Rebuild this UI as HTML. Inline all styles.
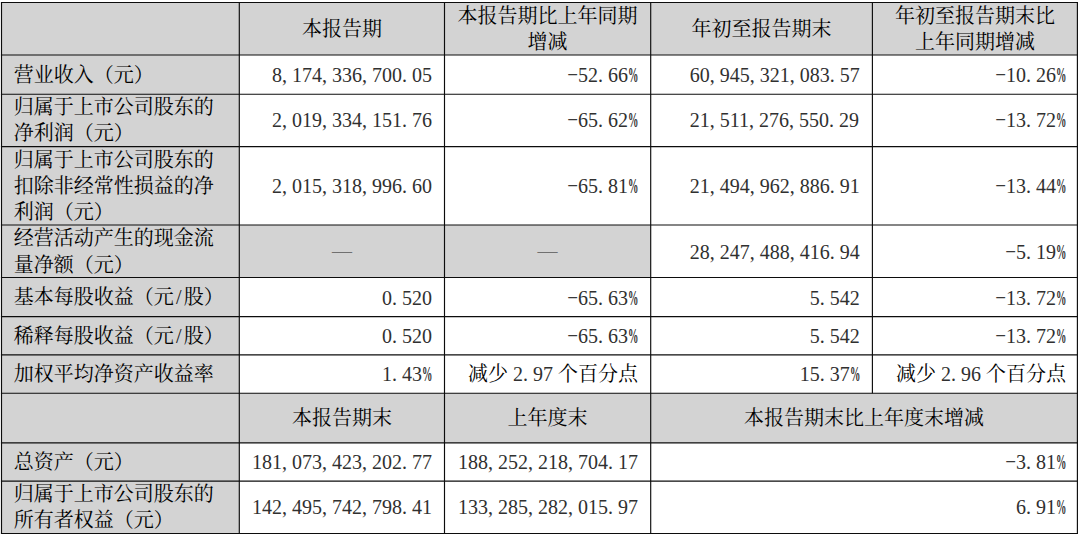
<!DOCTYPE html>
<html lang="zh-CN">
<head>
<meta charset="utf-8">
<title>主要会计数据和财务指标</title>
<style>
html,body{margin:0;padding:0;background:#fff}
#page{position:relative;width:1080px;height:536px;overflow:hidden;background:#fff;font-family:"Liberation Serif",serif;font-size:20px;color:#000}
#page svg{position:absolute;left:0;top:0;display:block}
table{margin:2.5px 0 0 1.5px;width:1075.9px;border-collapse:collapse;table-layout:fixed;border-spacing:0}
th,td{padding:0;margin:0;border:0;font-weight:normal}
.ln{position:absolute;white-space:nowrap;height:26.2px;line-height:26.2px;text-align:left;letter-spacing:0;color:#303030}
.cj{display:inline-block;color:#000;font-family:"Liberation Serif","Noto Serif CJK SC",serif;white-space:nowrap;overflow:visible;letter-spacing:0}
i{font-style:normal;display:inline-block;width:10px}
i.p{text-align:left}
i.pc{text-align:left}
i.pc{font-weight:bold;transform:scale(.52,1.02);transform-origin:0 76%}
i.mi{text-align:center;color:#3a3a3a;transform:translate(-.4px,-2.1px) scale(1.7,.72)}
i.sl{text-align:center;color:#1a1a1a}
i.sp{width:5px}
</style>
</head>
<body>
<div id="page">
<svg width="1080" height="536" viewBox="0 0 1080 536" aria-hidden="true">
<rect x="1.5" y="2.5" width="237.8" height="531" fill="#d3d3d3"/>
<rect x="1.5" y="2.5" width="1075.9" height="52.5" fill="#d3d3d3"/>
<rect x="1.5" y="393.2" width="1075.9" height="49.7" fill="#d3d3d3"/>
<rect x="239.3" y="225" width="411.4" height="52.5" fill="#d3d3d3"/>
<g stroke="#0c0c0c" stroke-width="1.15" fill="none">
<path d="M0.93 2.5H1077.98"/>
<path d="M0.93 55H1077.98"/>
<path d="M0.93 94.2H1077.98"/>
<path d="M0.93 146.6H1077.98"/>
<path d="M0.93 225H1077.98"/>
<path d="M0.93 277.5H1077.98"/>
<path d="M0.93 316.6H1077.98"/>
<path d="M0.93 354.9H1077.98"/>
<path d="M0.93 393.2H1077.98"/>
<path d="M0.93 442.9H1077.98"/>
<path d="M0.93 481.1H1077.98"/>
<path d="M0.93 533.5H1077.98"/>
<path d="M1.5 2.5V533.5"/>
<path d="M239.3 2.5V533.5"/>
<path d="M444.5 2.5V533.5"/>
<path d="M650.7 2.5V533.5"/>
<path d="M872.4 2.5V393.2"/>
<path d="M1077.4 2.5V533.5"/>
</g>
</svg>
<table>
<colgroup><col style="width:237.8px"><col style="width:205.2px"><col style="width:206.2px"><col style="width:221.7px"><col style="width:205px"></colgroup>
<tr style="height:52.5px">
<th></th>
<th><div class="ln" style="left:301.9px;top:15.9px;width:80px"><span class="cj" style="width:80px">本报告期</span></div></th>
<th><div class="ln" style="left:457.6px;top:2.8px;width:180px"><span class="cj" style="width:180px">本报告期比上年同期</span></div><div class="ln" style="left:527.6px;top:29px;width:40px"><span class="cj" style="width:40px">增减</span></div></th>
<th><div class="ln" style="left:691.55px;top:15.9px;width:140px"><span class="cj" style="width:140px">年初至报告期末</span></div></th>
<th><div class="ln" style="left:894.9px;top:2.8px;width:160px"><span class="cj" style="width:160px">年初至报告期末比</span></div><div class="ln" style="left:914.9px;top:29px;width:120px"><span class="cj" style="width:120px">上年同期增减</span></div></th>
</tr>
<tr style="height:39.2px">
<th><div class="ln" style="left:13.7px;top:61.5px;width:140px"><span class="cj" style="width:140px">营业收入（元）</span></div></th>
<td><div class="ln" style="left:271.9px;top:61.5px;width:160px">8<i class="p">,</i>174<i class="p">,</i>336<i class="p">,</i>700<i class="p">.</i>05</div></td>
<td><div class="ln" style="left:568.1px;top:61.5px;width:70px"><i class="mi">-</i>52<i class="p">.</i>66<i class="pc">%</i></div></td>
<td><div class="ln" style="left:689.8px;top:61.5px;width:170px">60<i class="p">,</i>945<i class="p">,</i>321<i class="p">,</i>083<i class="p">.</i>57</div></td>
<td><div class="ln" style="left:995.9px;top:61.5px;width:70px"><i class="mi">-</i>10<i class="p">.</i>26<i class="pc">%</i></div></td>
</tr>
<tr style="height:52.4px">
<th><div class="ln" style="left:13.7px;top:93.9px;width:200px"><span class="cj" style="width:200px">归属于上市公司股东的</span></div><div class="ln" style="left:13.7px;top:120.4px;width:120px"><span class="cj" style="width:120px">净利润（元）</span></div></th>
<td><div class="ln" style="left:271.9px;top:107.3px;width:160px">2<i class="p">,</i>019<i class="p">,</i>334<i class="p">,</i>151<i class="p">.</i>76</div></td>
<td><div class="ln" style="left:568.1px;top:107.3px;width:70px"><i class="mi">-</i>65<i class="p">.</i>62<i class="pc">%</i></div></td>
<td><div class="ln" style="left:689.8px;top:107.3px;width:170px">21<i class="p">,</i>511<i class="p">,</i>276<i class="p">,</i>550<i class="p">.</i>29</div></td>
<td><div class="ln" style="left:995.9px;top:107.3px;width:70px"><i class="mi">-</i>13<i class="p">.</i>72<i class="pc">%</i></div></td>
</tr>
<tr style="height:78.4px">
<th><div class="ln" style="left:13.7px;top:147px;width:200px"><span class="cj" style="width:200px">归属于上市公司股东的</span></div><div class="ln" style="left:13.7px;top:172.7px;width:200px"><span class="cj" style="width:200px">扣除非经常性损益的净</span></div><div class="ln" style="left:13.7px;top:198.9px;width:100px"><span class="cj" style="width:100px">利润（元）</span></div></th>
<td><div class="ln" style="left:271.9px;top:172.7px;width:160px">2<i class="p">,</i>015<i class="p">,</i>318<i class="p">,</i>996<i class="p">.</i>60</div></td>
<td><div class="ln" style="left:568.1px;top:172.7px;width:70px"><i class="mi">-</i>65<i class="p">.</i>81<i class="pc">%</i></div></td>
<td><div class="ln" style="left:689.8px;top:172.7px;width:170px">21<i class="p">,</i>494<i class="p">,</i>962<i class="p">,</i>886<i class="p">.</i>91</div></td>
<td><div class="ln" style="left:995.9px;top:172.7px;width:70px"><i class="mi">-</i>13<i class="p">.</i>44<i class="pc">%</i></div></td>
</tr>
<tr style="height:52.5px">
<th><div class="ln" style="left:13.7px;top:225.05px;width:200px"><span class="cj" style="width:200px">经营活动产生的现金流</span></div><div class="ln" style="left:13.7px;top:251.85px;width:120px"><span class="cj" style="width:120px">量净额（元）</span></div></th>
<td><div class="ln" style="left:331.9px;top:238.15px;width:20px"><span class="cj" style="width:20px;color:#707070">—</span></div></td>
<td><div class="ln" style="left:537.6px;top:238.15px;width:20px"><span class="cj" style="width:20px;color:#707070">—</span></div></td>
<td><div class="ln" style="left:689.8px;top:239.15px;width:170px">28<i class="p">,</i>247<i class="p">,</i>488<i class="p">,</i>416<i class="p">.</i>94</div></td>
<td><div class="ln" style="left:1005.9px;top:239.15px;width:60px"><i class="mi">-</i>5<i class="p">.</i>19<i class="pc">%</i></div></td>
</tr>
<tr style="height:39.1px">
<th><div class="ln" style="left:13.7px;top:284.45px;width:210px"><span class="cj" style="width:160px">基本每股收益（元</span><i class="sl">/</i><span class="cj" style="width:40px">股）</span></div></th>
<td><div class="ln" style="left:381.9px;top:284.95px;width:50px">0<i class="p">.</i>520</div></td>
<td><div class="ln" style="left:568.1px;top:284.95px;width:70px"><i class="mi">-</i>65<i class="p">.</i>63<i class="pc">%</i></div></td>
<td><div class="ln" style="left:809.8px;top:284.95px;width:50px">5<i class="p">.</i>542</div></td>
<td><div class="ln" style="left:995.9px;top:284.95px;width:70px"><i class="mi">-</i>13<i class="p">.</i>72<i class="pc">%</i></div></td>
</tr>
<tr style="height:38.3px">
<th><div class="ln" style="left:13.7px;top:322.65px;width:210px"><span class="cj" style="width:160px">稀释每股收益（元</span><i class="sl">/</i><span class="cj" style="width:40px">股）</span></div></th>
<td><div class="ln" style="left:381.9px;top:322.65px;width:50px">0<i class="p">.</i>520</div></td>
<td><div class="ln" style="left:568.1px;top:322.65px;width:70px"><i class="mi">-</i>65<i class="p">.</i>63<i class="pc">%</i></div></td>
<td><div class="ln" style="left:809.8px;top:322.65px;width:50px">5<i class="p">.</i>542</div></td>
<td><div class="ln" style="left:995.9px;top:322.65px;width:70px"><i class="mi">-</i>13<i class="p">.</i>72<i class="pc">%</i></div></td>
</tr>
<tr style="height:38.3px">
<th><div class="ln" style="left:13.7px;top:360.95px;width:200px"><span class="cj" style="width:200px">加权平均净资产收益率</span></div></th>
<td><div class="ln" style="left:381.9px;top:360.95px;width:50px">1<i class="p">.</i>43<i class="pc">%</i></div></td>
<td><div class="ln" style="left:468.1px;top:360.95px;width:170px"><span class="cj" style="width:40px">减少</span><i class="sp"> </i>2<i class="p">.</i>97<i class="sp"> </i><span class="cj" style="width:80px">个百分点</span></div></td>
<td><div class="ln" style="left:799.8px;top:360.95px;width:60px">15<i class="p">.</i>37<i class="pc">%</i></div></td>
<td><div class="ln" style="left:895.9px;top:360.95px;width:170px"><span class="cj" style="width:40px">减少</span><i class="sp"> </i>2<i class="p">.</i>96<i class="sp"> </i><span class="cj" style="width:80px">个百分点</span></div></td>
</tr>
<tr style="height:49.7px">
<th></th>
<th><div class="ln" style="left:291.9px;top:404.95px;width:100px"><span class="cj" style="width:100px">本报告期末</span></div></th>
<th><div class="ln" style="left:507.6px;top:404.95px;width:80px"><span class="cj" style="width:80px">上年度末</span></div></th>
<th colspan="2"><div class="ln" style="left:744.05px;top:404.95px;width:240px"><span class="cj" style="width:240px">本报告期末比上年度末增减</span></div></th>
</tr>
<tr style="height:38.2px">
<th><div class="ln" style="left:13.7px;top:448.9px;width:120px"><span class="cj" style="width:120px">总资产（元）</span></div></th>
<td><div class="ln" style="left:251.9px;top:448.9px;width:180px">181<i class="p">,</i>073<i class="p">,</i>423<i class="p">,</i>202<i class="p">.</i>77</div></td>
<td><div class="ln" style="left:458.1px;top:448.9px;width:180px">188<i class="p">,</i>252<i class="p">,</i>218<i class="p">,</i>704<i class="p">.</i>17</div></td>
<td colspan="2"><div class="ln" style="left:1005.9px;top:448.9px;width:60px"><i class="mi">-</i>3<i class="p">.</i>81<i class="pc">%</i></div></td>
</tr>
<tr style="height:52.4px">
<th><div class="ln" style="left:13.7px;top:481.1px;width:200px"><span class="cj" style="width:200px">归属于上市公司股东的</span></div><div class="ln" style="left:13.7px;top:507.3px;width:160px"><span class="cj" style="width:160px">所有者权益（元）</span></div></th>
<td><div class="ln" style="left:251.9px;top:494.2px;width:180px">142<i class="p">,</i>495<i class="p">,</i>742<i class="p">,</i>798<i class="p">.</i>41</div></td>
<td><div class="ln" style="left:458.1px;top:494.2px;width:180px">133<i class="p">,</i>285<i class="p">,</i>282<i class="p">,</i>015<i class="p">.</i>97</div></td>
<td colspan="2"><div class="ln" style="left:1015.9px;top:494.2px;width:50px">6<i class="p">.</i>91<i class="pc">%</i></div></td>
</tr>
</table>
</div>
</body>
</html>
